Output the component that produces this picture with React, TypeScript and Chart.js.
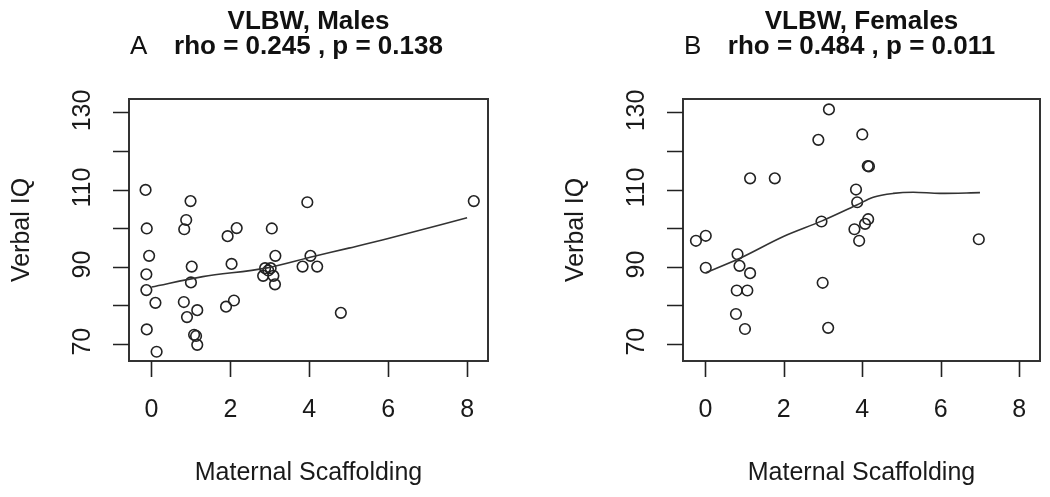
import React, { useEffect, useRef } from 'react';
import { Chart, registerables } from 'chart.js';

Chart.register(...registerables);

// ---- Data ----
const maleX = [-0.15, 0.99, 3.95, 8.17, 0.88, 0.83, -0.12, 1.93, 2.16, 3.05, -0.06, 3.14, 4.03, 1.02, 2.03, -0.13, 1.0, -0.13, 0.1, 0.82, 1.16, 0.9, 1.89, 2.09, 3.83, 4.2, 4.8, -0.12, 1.08, 1.13, 1.16, 0.13, 2.88, 3.02, 2.83, 3.09, 3.13, 2.96];
const maleY = [109.9, 107.0, 106.7, 107.0, 102.1, 99.7, 99.9, 97.9, 100.0, 99.9, 92.8, 92.8, 92.8, 90.0, 90.7, 88.0, 85.9, 83.9, 80.6, 80.8, 78.7, 76.9, 79.6, 81.2, 90.0, 90.0, 78.0, 73.7, 72.3, 72.0, 69.7, 67.9, 89.6, 89.6, 87.6, 87.6, 85.4, 89.0];
const maleFitX = [0.0, 1.3, 2.9, 4.1, 5.0, 6.0, 8.0];
const maleFitY = [84.7, 87.4, 89.6, 92.6, 94.8, 97.3, 102.7];

const femaleX = [3.15, 2.88, 4.0, 4.14, 4.17, 1.14, 1.77, 3.84, 3.87, 2.96, 4.15, 4.07, 3.8, 3.92, -0.24, 0.01, 6.97, 0.01, 0.82, 0.87, 1.14, 0.8, 1.07, 2.99, 0.78, 1.01, 3.13];
const femaleY = [130.8, 122.9, 124.3, 116.1, 116.0, 112.9, 112.9, 110.0, 106.7, 101.7, 102.3, 101.1, 99.7, 96.7, 96.7, 98.0, 97.1, 89.7, 93.2, 90.2, 88.3, 83.8, 83.8, 85.8, 77.7, 73.8, 74.1];
const femaleFitX = [0.01, 0.88, 1.99, 2.96, 3.86, 4.28, 4.79, 5.3, 5.98, 7.0];
const femaleFitY = [88.4, 92.15, 97.8, 101.8, 106.0, 108.0, 109.0, 109.3, 109.0, 109.2];

const xTicks = [0, 2, 4, 6, 8];
const xTickLabels = ['0', '2', '4', '6', '8'];
const yTicks = [70, 80, 90, 100, 110, 120, 130];
const yTickLabels = ['70', '', '90', '', '110', '', '130'];
const xLimits = [-0.57, 8.53];
const yLimits = [65.5, 133.5];

const xAxisTitle = 'Maternal Scaffolding';
const yAxisTitle = 'Verbal IQ';
const panelTitles = ['VLBW, Males', 'VLBW, Females'];
const panelLetters = ['A', 'B'];
const panelStats = ['rho = 0.245 , p = 0.138', 'rho = 0.484 , p = 0.011'];

const FONT = '"Liberation Sans", Arial, Helvetica, sans-serif';
const INK = '#1a1a1a';

const rAxesPlugin = {
  id: 'rAxes',
  afterDraw(chart: any, _args: any, opts: any) {
    const ctx = chart.ctx as CanvasRenderingContext2D;
    const { left, right, top, bottom } = chart.chartArea;
    const xs = chart.scales.x;
    const ys = chart.scales.y;
    ctx.save();
    // box
    ctx.strokeStyle = '#333';
    ctx.lineWidth = 2;
    ctx.strokeRect(left, top, right - left, bottom - top);
    // ticks
    ctx.lineWidth = 1.6;
    ctx.strokeStyle = '#222';
    ctx.beginPath();
    xTicks.forEach((v) => {
      const px = Math.round(xs.getPixelForValue(v)) + 0.5;
      ctx.moveTo(px, bottom);
      ctx.lineTo(px, bottom + 16);
    });
    yTicks.forEach((v) => {
      const py = Math.round(ys.getPixelForValue(v)) + 0.5;
      ctx.moveTo(left, py);
      ctx.lineTo(left - 16, py);
    });
    ctx.stroke();

    ctx.fillStyle = INK;
    ctx.font = `25px ${FONT}`;
    // x tick labels
    ctx.textAlign = 'center';
    ctx.textBaseline = 'middle';
    xTicks.forEach((v, i) => {
      ctx.fillText(xTickLabels[i], xs.getPixelForValue(v), bottom + 49);
    });
    // y tick labels (rotated)
    yTicks.forEach((v, i) => {
      const lab = yTickLabels[i];
      if (!lab) return;
      ctx.save();
      ctx.translate(left - 46, ys.getPixelForValue(v) - 2);
      ctx.rotate(-Math.PI / 2);
      ctx.fillText(lab, 0, 0);
      ctx.restore();
    });
    // axis titles
    const cx = (left + right) / 2;
    const cy = (top + bottom) / 2;
    ctx.textBaseline = 'alphabetic';
    ctx.fillText(xAxisTitle, cx, bottom + 119);
    ctx.save();
    ctx.translate(left - 107, cy);
    ctx.rotate(-Math.PI / 2);
    ctx.textBaseline = 'middle';
    ctx.fillText(yAxisTitle, 0, 0);
    ctx.restore();

    // titles
    ctx.fillStyle = '#111';
    ctx.textBaseline = 'alphabetic';
    ctx.font = `bold 26px ${FONT}`;
    ctx.textAlign = 'center';
    ctx.fillText(opts.title, cx, 29);
    ctx.fillText(opts.stats, cx, 54);
    ctx.font = `26px ${FONT}`;
    ctx.textAlign = 'left';
    ctx.fillText(opts.letter, left + 1, 54);
    ctx.restore();
  },
};

function Panel(props: {
  xs: number[];
  ys: number[];
  fx: number[];
  fy: number[];
  idx: number;
  padLeft: number;
  padRight: number;
}) {
  const ref = useRef<HTMLCanvasElement | null>(null);
  useEffect(() => {
    if (!ref.current) return;
    const pts = props.xs.map((x, i) => ({ x, y: props.ys[i] }));
    const fit = props.fx.map((x, i) => ({ x, y: props.fy[i] }));
    const chart = new Chart(ref.current, {
      type: 'scatter',
      data: {
        datasets: [
          {
            data: fit,
            showLine: true,
            borderColor: '#333',
            borderWidth: 1.6,
            pointRadius: 0,
            cubicInterpolationMode: 'monotone',
            fill: false,
          } as any,
          {
            data: pts,
            pointRadius: 5.3,
            pointBorderWidth: 1.6,
            pointBorderColor: '#222',
            pointBackgroundColor: 'rgba(0,0,0,0)',
            borderColor: '#222',
            backgroundColor: 'rgba(0,0,0,0)',
            pointStyle: 'circle',
          },
        ],
      },
      options: {
        animation: false,
        responsive: false,
        maintainAspectRatio: false,
        layout: {
          padding: { left: props.padLeft, right: props.padRight, top: 99, bottom: 136 },
        },
        scales: {
          x: { type: 'linear', min: xLimits[0], max: xLimits[1], display: false },
          y: { type: 'linear', min: yLimits[0], max: yLimits[1], display: false },
        },
        plugins: {
          legend: { display: false },
          tooltip: { enabled: false },
          title: { display: false },
          rAxes: {
            title: panelTitles[props.idx],
            stats: panelStats[props.idx],
            letter: panelLetters[props.idx],
          },
        } as any,
      },
      plugins: [rAxesPlugin],
    });
    return () => chart.destroy();
  }, []);
  return (
    <canvas
      ref={ref}
      width={525}
      height={497}
      style={{ width: 525, height: 497, display: 'block' }}
    />
  );
}

export default function App() {
  return (
    <div
      style={{
        position: 'absolute',
        left: 0,
        top: 0,
        width: 1050,
        height: 497,
        display: 'flex',
        background: '#fff',
      }}
    >
      <Panel xs={maleX} ys={maleY} fx={maleFitX} fy={maleFitY} idx={0} padLeft={129} padRight={37} />
      <Panel xs={femaleX} ys={femaleY} fx={femaleFitX} fy={femaleFitY} idx={1} padLeft={158} padRight={10} />
    </div>
  );
}
